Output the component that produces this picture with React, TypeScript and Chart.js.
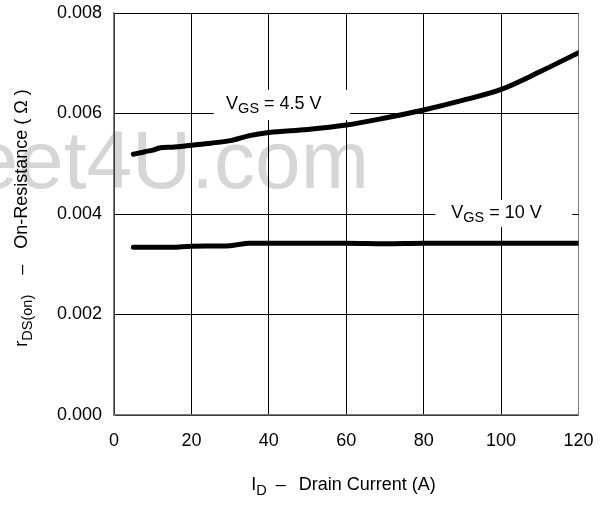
import React, { useEffect, useRef } from 'react';
import { Chart, registerables } from 'chart.js';

Chart.register(...registerables);

// ---- data ----
const currentVgs45 = [5, 8, 10, 12, 15, 20, 25, 30, 35, 40, 50, 60, 70, 80, 90, 100, 110, 120];
const rdsVgs45 = [0.00519, 0.00524, 0.00527, 0.00532, 0.00533, 0.00537, 0.00541, 0.00546, 0.00556, 0.00562, 0.00568, 0.00577, 0.00591, 0.00607, 0.00626, 0.00648, 0.00683, 0.00721];
const currentVgs10 = [5, 15, 20, 30, 35, 40, 60, 70, 80, 100, 120];
const rdsVgs10 = [0.00334, 0.00334, 0.00336, 0.00337, 0.00342, 0.00342, 0.00342, 0.00341, 0.00342, 0.00342, 0.00342];
const xTickValues = [0, 20, 40, 60, 80, 100, 120];
const yTickValues = [0, 0.002, 0.004, 0.006, 0.008];
const seriesLabels = ['4.5 V', '10 V'];

const FONT = '"Liberation Sans", Arial, Helvetica, sans-serif';

type Part = { t?: string; sub?: boolean; gap?: number };

function drawRich(ctx: CanvasRenderingContext2D, parts: Part[], x: number, y: number, size: number, subSize: number, subDrop: number) {
  let total = 0;
  const widths = parts.map((p) => {
    if (p.gap !== undefined) { total += p.gap; return p.gap; }
    ctx.font = `${p.sub ? subSize : size}px ${FONT}`;
    const w = ctx.measureText(p.t || '').width;
    total += w;
    return w;
  });
  let cx = x - total / 2;
  ctx.textAlign = 'left';
  ctx.textBaseline = 'alphabetic';
  parts.forEach((p, i) => {
    if (p.t) {
      ctx.font = `${p.sub ? subSize : size}px ${FONT}`;
      ctx.fillText(p.t, cx, y + (p.sub ? subDrop : 0));
    }
    cx += widths[i];
  });
  return total;
}

const watermarkPlugin = {
  id: 'watermark',
  beforeDraw(chart: any) {
    const ctx = chart.ctx as CanvasRenderingContext2D;
    ctx.save();
    ctx.fillStyle = '#ffffff';
    ctx.fillRect(0, 0, chart.width, chart.height);
    ctx.font = `82px ${FONT}`;
    ctx.fillStyle = '#d6d6d6';
    ctx.textAlign = 'right';
    ctx.textBaseline = 'alphabetic';
    ctx.fillText('Datasheet4U.com', 369, 188);
    ctx.restore();
  },
};

const labelPlugin = {
  id: 'curveLabels',
  beforeDatasetsDraw(chart: any) {
    const ctx = chart.ctx as CanvasRenderingContext2D;
    const xs = chart.scales.x;
    const ys = chart.scales.y;
    const boxes = [
      { x0: 25.8, x1: 61, y0: 0.00647, y1: 0.00587, cx: 41.3, by: 0.00608, label: seriesLabels[0] },
      { x0: 83, x1: 118.4, y0: 0.00428, y1: 0.00374, cx: 98.8, by: 0.00392, label: seriesLabels[1] },
    ];
    ctx.save();
    boxes.forEach((b) => {
      const px0 = xs.getPixelForValue(b.x0);
      const px1 = xs.getPixelForValue(b.x1);
      const py0 = ys.getPixelForValue(b.y0);
      const py1 = ys.getPixelForValue(b.y1);
      ctx.fillStyle = '#ffffff';
      ctx.fillRect(px0, py0, px1 - px0, py1 - py0);
      ctx.fillStyle = '#000000';
      drawRich(ctx, [{ t: 'V' }, { t: 'GS', sub: true }, { t: ' = ' + b.label }], xs.getPixelForValue(b.cx), ys.getPixelForValue(b.by), 18, 14.5, 4);
    });
    ctx.restore();
  },
};

const titlePlugin = {
  id: 'axisTitles',
  afterDraw(chart: any) {
    const ctx = chart.ctx as CanvasRenderingContext2D;
    ctx.save();
    ctx.fillStyle = '#000000';
    drawRich(ctx, [{ t: 'I' }, { t: 'D', sub: true }, { gap: 9 }, { t: '\u2013' }, { gap: 13 }, { t: 'Drain Current (A)' }], 343.5, 490, 18, 14.5, 5);
    ctx.translate(27, 218);
    ctx.rotate(-Math.PI / 2);
    drawRich(ctx, [{ t: 'r' }, { t: 'DS(on)', sub: true }, { gap: 20 }, { t: '\u2013' }, { gap: 16 }, { t: 'On-Resistance ( \u03A9 )' }], 0, 0, 18, 14.5, 5);
    ctx.restore();
  },
};

export default function App() {
  const ref = useRef<HTMLCanvasElement | null>(null);
  useEffect(() => {
    if (!ref.current) return;
    const chart = new Chart(ref.current, {
      type: 'line',
      data: {
        datasets: [
          {
            label: 'VGS = ' + seriesLabels[0],
            data: currentVgs45.map((x, i) => ({ x, y: rdsVgs45[i] })),
            borderColor: '#000000',
            borderWidth: 5,
            pointRadius: 0,
            cubicInterpolationMode: 'monotone',
            borderCapStyle: 'round',
            borderJoinStyle: 'round',
          },
          {
            label: 'VGS = ' + seriesLabels[1],
            data: currentVgs10.map((x, i) => ({ x, y: rdsVgs10[i] })),
            borderColor: '#000000',
            borderWidth: 5,
            pointRadius: 0,
            cubicInterpolationMode: 'monotone',
            borderCapStyle: 'round',
            borderJoinStyle: 'round',
          },
        ],
      },
      options: {
        responsive: false,
        animation: false,
        layout: { padding: { left: 0, top: 13, right: 27.5, bottom: 0 } },
        plugins: { legend: { display: false }, tooltip: { enabled: false } },
        scales: {
          x: {
            type: 'linear',
            min: 0,
            max: 120,
            afterBuildTicks: (s: any) => { s.ticks = xTickValues.map((v) => ({ value: v })); },
            afterFit: (s: any) => { s.height = 90; s.paddingLeft = 0; s.paddingRight = 0; },
            ticks: { font: { family: FONT, size: 18 }, color: '#000', padding: 15, maxRotation: 0, autoSkip: false, callback: (v: any) => String(v) },
            grid: {
              color: (c: any) => (c.tick && c.tick.value === 120 ? '#7a7a7a' : '#000000'),
              lineWidth: 1,
              drawTicks: false,
            },
            border: { color: '#7a7a7a', width: 1.5 },
          },
          y: {
            type: 'linear',
            min: 0,
            max: 0.008,
            afterBuildTicks: (s: any) => { s.ticks = yTickValues.map((v) => ({ value: v })); },
            afterFit: (s: any) => { s.width = 114; s.paddingTop = 0; s.paddingBottom = 0; },
            ticks: { font: { family: FONT, size: 18 }, color: '#000', padding: 12, autoSkip: false, callback: (v: any) => Number(v).toFixed(3) },
            grid: { color: '#000000', lineWidth: 1, drawTicks: false },
            border: { color: '#7a7a7a', width: 1.5 },
          },
        },
      },
      plugins: [watermarkPlugin, labelPlugin, titlePlugin],
    } as any);
    return () => chart.destroy();
  }, []);
  return (
    <div style={{ position: 'absolute', left: 0, top: 0, width: 606, height: 505 }}>
      <canvas ref={ref} width={606} height={505} style={{ display: 'block' }} />
    </div>
  );
}
